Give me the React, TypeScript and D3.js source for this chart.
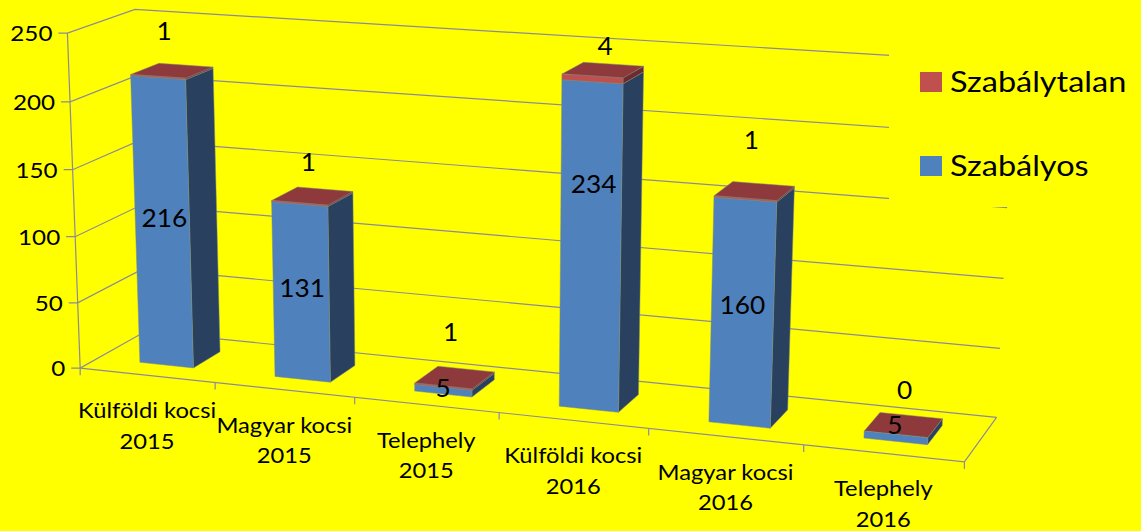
import React from "react";
import * as d3 from "d3";

const categories = ["Külföldi kocsi", "Magyar kocsi", "Telephely", "Külföldi kocsi", "Magyar kocsi", "Telephely"];
const years = ["2015", "2015", "2015", "2016", "2016", "2016"];
const szabalyos = [216, 131, 5, 234, 160, 5];
const szabalytalan = [1, 1, 1, 4, 1, 0];

const width = 1141;
const height = 531;
const yellow = "#ffff00";
const gridColor = "#8b8b98";
const font = "Lato, sans-serif";

// calibration of the 3D view: [category pos, value, depth] -> screen
const calibration: number[][] = [
  [0, 0, 0, 81.5, 367.7],
  [1, 0, 0, 215.5, 382],
  [2, 0, 0, 355, 397.7],
  [3, 0, 0, 499, 413],
  [4, 0, 0, 648.7, 429],
  [5, 0, 0, 803.3, 445],
  [6, 0, 0, 964.3, 462.3],
  [0, 50, 0, 78.5, 302.7],
  [0, 100, 0, 75.5, 236.5],
  [0, 150, 0, 72.5, 169.5],
  [0, 200, 0, 69, 101.5],
  [0, 250, 0, 66, 33],
  [0, 250, 1, 137, 10],
  [0, 0, 1, 143, 332],
  [6, 0, 1, 996.7, 416.7],
  [6, 50, 1, 1000, 347.7],
  [6, 100, 1, 1004, 278.3],
  [6, 150, 1, 1007, 207.5],
  [6, 200, 1, 1011, 136],
  [6, 250, 1, 1014, 63],
];

// least squares for the 11 parameter projection
const solveProjection = () => {
  const rows: number[][] = [];
  const rhs: number[] = [];
  calibration.forEach(([u, v, w, x, y]) => {
    const p = [u / 6, v / 250, w, 1];
    rows.push([...p, 0, 0, 0, 0, -x * p[0], -x * p[1], -x * p[2]]);
    rhs.push(x);
    rows.push([0, 0, 0, 0, ...p, -y * p[0], -y * p[1], -y * p[2]]);
    rhs.push(y);
  });
  const n = 11;
  const m = d3.range(n).map(i =>
    d3.range(n + 1).map(j =>
      j < n ? d3.sum(rows, r => r[i] * r[j]) : d3.sum(rows, (r, k) => r[i] * rhs[k])
    )
  );
  for (let i = 0; i < n; i++) {
    let best = i;
    for (let k = i + 1; k < n; k++) if (Math.abs(m[k][i]) > Math.abs(m[best][i])) best = k;
    [m[i], m[best]] = [m[best], m[i]];
    for (let k = 0; k < n; k++) {
      if (k === i) continue;
      const f = m[k][i] / m[i][i];
      for (let j = i; j <= n; j++) m[k][j] -= f * m[i][j];
    }
  }
  return d3.range(n).map(i => m[i][n] / m[i][i]);
};

const h = solveProjection();
const project = (u: number, v: number, w: number): [number, number] => {
  const a = u / 6;
  const b = v / 250;
  const d = h[8] * a + h[9] * b + h[10] * w + 1;
  return [
    (h[0] * a + h[1] * b + h[2] * w + h[3]) / d,
    (h[4] * a + h[5] * b + h[6] * w + h[7]) / d,
  ];
};

const band = d3.scaleBand<number>().domain(d3.range(6)).range([0.015, 6.015]).paddingInner(0.6).paddingOuter(0.3);
const depth = d3.scaleLinear().domain([0, 1]).range([0.27, 0.7]);
const yTicks = d3.scaleLinear().domain([0, 250]).ticks(5);
const line = d3.line();

const poly = (pts: [number, number, number][]) => line(pts.map(p => project(p[0], p[1], p[2]))) + "Z";

// hand placed data labels, as nudges from where the bar ends
const topNudge = [[-8, -40], [-4, -34], [-4, -45], [2, -24], [-3, -51], [1, -35]];
const midNudge = [[2, -5], [1, -4], [0, -3], [3, -64], [0, -9], [-1, -13]];

const Txt = ({ x, y, size, children, anchor = "middle", sx = 1.1 }: any) => (
  <text
    transform={`translate(${x},${y}) scale(${sx},1)`}
    fontFamily={font}
    fontSize={size}
    textAnchor={anchor}
    fill="#000"
  >
    {children}
  </text>
);

const Box = ({ i, v0, v1, front, side, top }: any) => {
  const a = band(i) as number;
  const b = a + band.bandwidth();
  const w0 = depth(0);
  const w1 = depth(1);
  const edge = { stroke: "#7d8a80", strokeWidth: 0.5 };
  return (
    <g>
      <path d={poly([[b, v0, w0], [b, v0, w1], [b, v1, w1], [b, v1, w0]])} fill={side} {...edge} />
      <path d={poly([[a, v1, w0], [b, v1, w0], [b, v1, w1], [a, v1, w1]])} fill={top} {...edge} />
      <path d={poly([[a, v0, w0], [b, v0, w0], [b, v1, w0], [a, v1, w0]])} fill={front} {...edge} />
    </g>
  );
};

export default function App() {
  return (
    <svg
      width={width}
      height={height}
      style={{ position: "absolute", left: 0, top: 0, background: yellow, display: "block" }}
    >
      {/* walls */}
      <g fill="none" stroke={gridColor} strokeWidth={1.2}>
        {yTicks.map(t => (
          <path
            key={t}
            d={line([[project(0, t, 0)[0] - 9, project(0, t, 0)[1]], project(0, t, 0), project(0, t, 1), project(6, t, 1)]) as string}
          />
        ))}
        <path d={line([project(0, 0, 0), project(0, 250, 0)]) as string} />
        <path d={line([project(0, 0, 0), project(6, 0, 0), project(6, 0, 1)]) as string} />
        {d3.range(7).map(i => (
          <path
            key={i}
            d={line([project(i, 0, 0), [project(i, 0, 0)[0], project(i, 0, 0)[1] + 7]]) as string}
          />
        ))}
      </g>

      {/* legend sits on an opaque box and hides the grid */}
      <rect x={889} y={40} width={252} height={167} fill={yellow} />

      {szabalyos.map((val, i) => (
        <g key={i}>
          <Box i={i} v0={0} v1={val} front="#4f81bd" side="#29405f" top="#8e3a3c" />
          {szabalytalan[i] > 0 && (
            <Box i={i} v0={val} v1={val + szabalytalan[i]} front="#c0504d" side="#6e2a2c" top="#8e3a3c" />
          )}
        </g>
      ))}

      {yTicks.map(t => {
        const [x, y] = project(0, t, 0);
        return (
          <Txt key={t} x={x - 15} y={y + 8} size={22} anchor="end">
            {t}
          </Txt>
        );
      })}

      {categories.map((c, i) => {
        const [x, y] = project(i + 0.5, 0, 0);
        return (
          <g key={i}>
            <Txt x={x} y={y + 43} size={21} sx={1.13}>{c}</Txt>
            <Txt x={x} y={y + 73.5} size={21} sx={1.13}>{years[i]}</Txt>
          </g>
        );
      })}

      {szabalyos.map((val, i) => {
        const u = (band(i) as number) + band.bandwidth() / 2;
        const [tx, ty] = project(u, val + szabalytalan[i], depth(0.5));
        const [mx, my] = project(u, val / 2, depth(0));
        return (
          <g key={i}>
            <Txt x={tx + topNudge[i][0]} y={ty + topNudge[i][1] + 9} size={25} sx={1.05}>{szabalytalan[i]}</Txt>
            <Txt x={mx + midNudge[i][0]} y={my + midNudge[i][1] + 9} size={25} sx={1.05}>{val}</Txt>
          </g>
        );
      })}

      <rect x={920} y={72} width={22} height={20} fill="#c0504d" />
      <rect x={920} y={156} width={22} height={20} fill="#4f81bd" />
      <Txt x={950} y={92} size={28} sx={1.16} anchor="start">Szabálytalan</Txt>
      <Txt x={950} y={176} size={28} sx={1.16} anchor="start">Szabályos</Txt>
    </svg>
  );
}
